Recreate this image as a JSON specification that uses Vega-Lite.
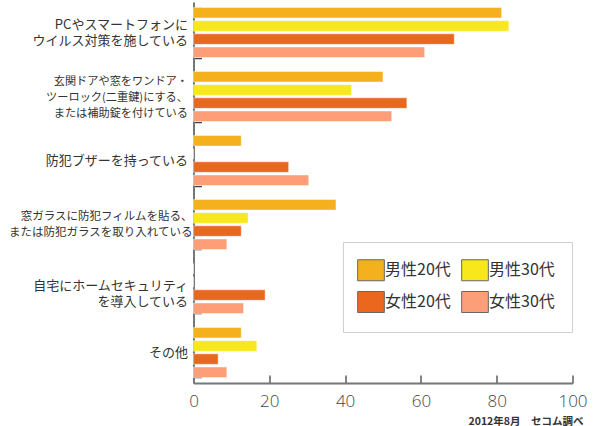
{
  "$schema": "https://vega.github.io/schema/vega-lite/v6.json",
  "width": 379,
  "height": 381,
  "autosize": {"type": "none"},
  "padding": {"left": 193.5, "top": 2, "right": 20.5, "bottom": 43},
  "background": "white",
  "config": {"view": {"stroke": null}, "font": "Noto Sans CJK JP"},
  "data": {
    "values": [
      {"item": "PCやスマートフォンに|ウイルス対策を施している", "group": "男性20代", "value": 81.3},
      {"item": "PCやスマートフォンに|ウイルス対策を施している", "group": "男性30代", "value": 83.2},
      {"item": "PCやスマートフォンに|ウイルス対策を施している", "group": "女性20代", "value": 68.8},
      {"item": "PCやスマートフォンに|ウイルス対策を施している", "group": "女性30代", "value": 61.0},
      {"item": "玄関ドアや窓をワンドア・|ツーロック(二重鍵)にする、|または補助錠を付けている", "group": "男性20代", "value": 50.0},
      {"item": "玄関ドアや窓をワンドア・|ツーロック(二重鍵)にする、|または補助錠を付けている", "group": "男性30代", "value": 41.7},
      {"item": "玄関ドアや窓をワンドア・|ツーロック(二重鍵)にする、|または補助錠を付けている", "group": "女性20代", "value": 56.3},
      {"item": "玄関ドアや窓をワンドア・|ツーロック(二重鍵)にする、|または補助錠を付けている", "group": "女性30代", "value": 52.3},
      {"item": "防犯ブザーを持っている", "group": "男性20代", "value": 12.6},
      {"item": "防犯ブザーを持っている", "group": "男性30代", "value": 0},
      {"item": "防犯ブザーを持っている", "group": "女性20代", "value": 25.1},
      {"item": "防犯ブザーを持っている", "group": "女性30代", "value": 30.4},
      {"item": "窓ガラスに防犯フィルムを貼る、|または防犯ガラスを取り入れている", "group": "男性20代", "value": 37.6},
      {"item": "窓ガラスに防犯フィルムを貼る、|または防犯ガラスを取り入れている", "group": "男性30代", "value": 14.4},
      {"item": "窓ガラスに防犯フィルムを貼る、|または防犯ガラスを取り入れている", "group": "女性20代", "value": 12.6},
      {"item": "窓ガラスに防犯フィルムを貼る、|または防犯ガラスを取り入れている", "group": "女性30代", "value": 8.8},
      {"item": "自宅にホームセキュリティ|を導入している", "group": "男性20代", "value": 0},
      {"item": "自宅にホームセキュリティ|を導入している", "group": "男性30代", "value": 0},
      {"item": "自宅にホームセキュリティ|を導入している", "group": "女性20代", "value": 18.9},
      {"item": "自宅にホームセキュリティ|を導入している", "group": "女性30代", "value": 13.2},
      {"item": "その他", "group": "男性20代", "value": 12.6},
      {"item": "その他", "group": "男性30代", "value": 16.7},
      {"item": "その他", "group": "女性20代", "value": 6.5},
      {"item": "その他", "group": "女性30代", "value": 8.8}
    ]
  },
  "mark": {"type": "bar", "stroke": "white", "strokeWidth": 1, "strokeOpacity": 0.45},
  "encoding": {
    "y": {
      "field": "item",
      "type": "nominal",
      "sort": null,
      "scale": {"paddingInner": 0.21875, "paddingOuter": 0.086},
      "axis": {
        "title": null,
        "tickBand": "extent",
        "tickSize": -8,
        "tickColor": "#444",
        "tickWidth": 1.5,
        "domainColor": "#777",
        "domainWidth": 2,
        "labelPadding": {"condition": {"test": "isString(datum.value) && indexof(datum.value, '窓ガラス') >= 0", "value": 9.5}, "value": 14},
        "labelFont": "Noto Sans CJK JP",
        "labelFontSize": {
          "condition": [
            {"test": "isString(datum.value) && indexof(datum.value, '窓ガラス') >= 0", "value": 11.5},
            {"test": "isString(datum.value) && indexof(datum.value, '玄関') >= 0", "value": 11.2}
          ],
          "value": 13
        },
        "labelOffset": {
          "condition": [
            {"test": "isString(datum.value) && indexof(datum.value, '自宅') >= 0", "value": -3},
            {"test": "isString(datum.value) && length(split(datum.value, '|')) == 3", "value": -15},
            {"test": "isString(datum.value) && length(split(datum.value, '|')) == 2", "value": -8}
          ],
          "value": 0
        },
        "labelColor": "#333",
        "labelLineHeight": 16,
        "labelLimit": 220,
        "labelExpr": "isString(datum.value) ? split(datum.value, '|') : ''"
      }
    },
    "yOffset": {
      "field": "group",
      "type": "nominal",
      "sort": ["男性20代", "男性30代", "女性20代", "女性30代"],
      "scale": {"paddingInner": 0.2, "paddingOuter": 0}
    },
    "x": {
      "field": "value",
      "type": "quantitative",
      "scale": {"domain": [0, 100]},
      "axis": {
        "values": [0, 20, 40, 60, 80, 100],
        "grid": false,
        "labelFlush": false,
        "tickSize": -8,
        "tickColor": "#333",
        "tickWidth": 1.2,
        "domainColor": "#777",
        "domainWidth": 2,
        "labelPadding": 18.5,
        "labelFont": "Open Sans",
        "labelFontWeight": 300,
        "labelFontSize": 17,
        "labelColor": "#444",
        "title": "2012年8月　セコム調べ",
        "titleFont": "Noto Sans CJK JP",
        "titleFontSize": 10.5,
        "titleFontWeight": "bold",
        "titleColor": "#333",
        "titleX": 389.5,
        "titleY": 41,
        "titleAlign": "right",
        "titleBaseline": "alphabetic"
      }
    },
    "color": {
      "field": "group",
      "type": "nominal",
      "scale": {
        "domain": ["男性20代", "男性30代", "女性20代", "女性30代"],
        "range": ["#F5B11D", "#F8E71A", "#EB671E", "#FC9F78"]
      },
      "legend": {
        "title": null,
        "orient": "none",
        "direction": "horizontal",
        "legendX": 149.5,
        "legendY": 240,
        "columns": 2,
        "fillColor": "white",
        "strokeColor": "#d0d0d0",
        "padding": 17,
        "symbolType": "M-1.27,-1H1.27V1H-1.27Z",
        "symbolSize": 441,
        "symbolStrokeColor": "#666",
        "symbolStrokeWidth": 1,
        "symbolOpacity": 1,
        "labelFont": "Noto Sans CJK JP",
        "labelFontSize": 16,
        "labelColor": "#333",
        "labelOffset": 3,
        "columnPadding": 8,
        "rowPadding": 6
      }
    }
  }
}
